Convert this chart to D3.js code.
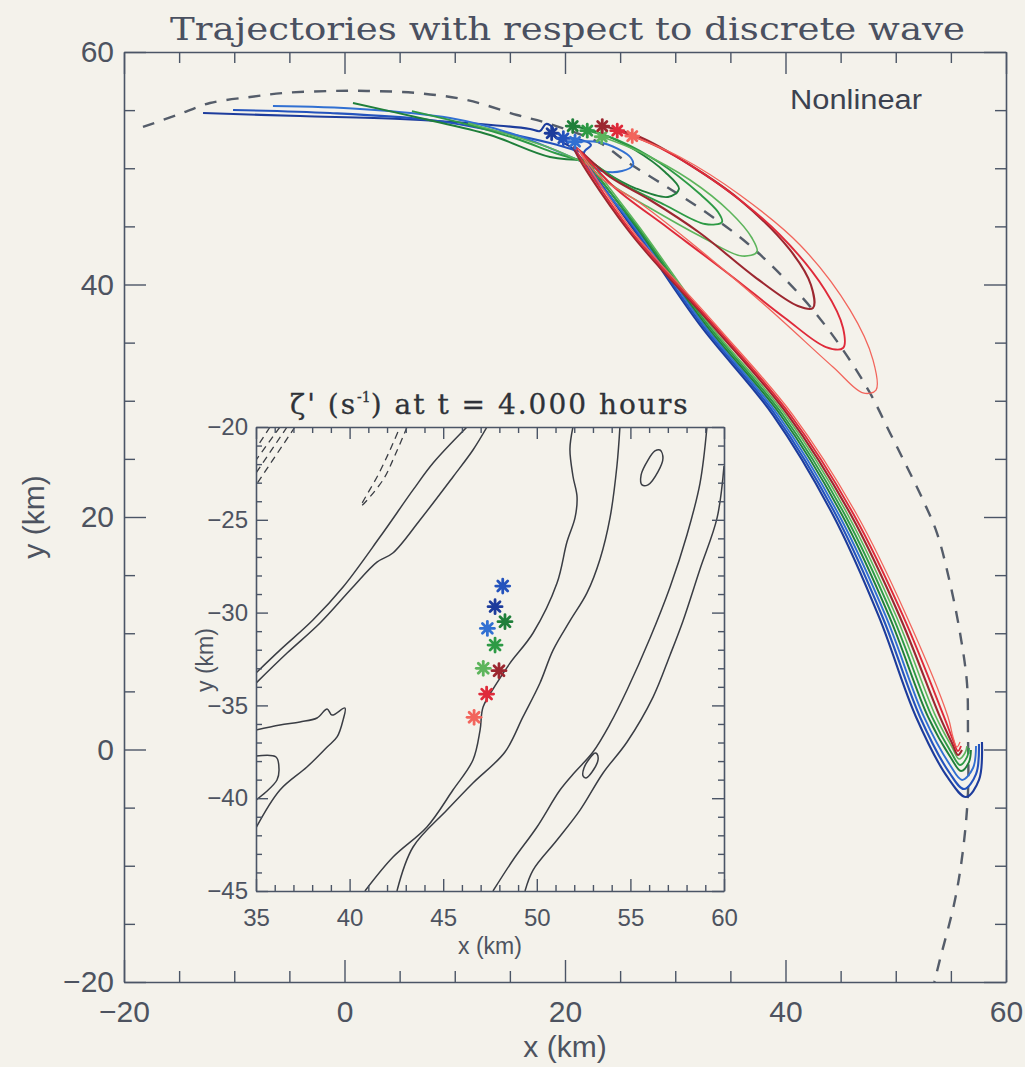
<!DOCTYPE html>
<html>
<head>
<meta charset="utf-8">
<script src="https://cdn.jsdelivr.net/npm/d3@7/dist/d3.min.js"></script>
<style>
  body { margin: 0; background: #f4f2eb; }
  svg { display: block; }
</style>
</head>
<body>
<div id="vis"></div>
<script>
// ---------------------------------------------------------------
// Data (km). Main panel: wave-relative trajectories
// ---------------------------------------------------------------
var wavePath = [[-18.28,53.55],[-15.19,54.58],[-12.20,55.61],[-8.57,56.13],[-5.58,56.47],[-1.04,56.65],[2.04,56.65],[6.58,56.47],[11.11,55.87],[15.65,54.58],[18.37,53.89],[23.17,52.17],[25.62,50.54],[29.25,48.39],[32.88,46.15],[36.51,43.57],[39.77,40.65],[42.49,37.81],[45.22,34.37],[47.66,30.67],[49.48,27.23],[51.02,24.30],[52.47,21.46],[53.74,18.62],[54.92,14.32],[55.83,10.02],[56.46,5.72],[56.55,1.42],[56.55,-3.74],[56.10,-8.65],[55.37,-12.95],[54.00,-18.10],[53.50,-20.00]];

var blue1Tail  = [[-12.83,54.75],[-4.04,54.49],[5.03,54.24],[12.29,53.81],[16.83,53.38],[17.73,53.20],[18.28,53.81],[18.91,53.46],[18.79,53.01]];
var blue1Track = [[18.79,53.01],[19.73,52.26],[20.63,51.74],[26.26,44.69],[32.24,36.52],[38.87,28.77],[44.31,20.17],[48.48,11.40],[51.84,2.80],[54.74,-2.45],[56.37,-4.09],[57.55,-2.62],[57.82,0.64]];
var blue2Tail  = [[-10.11,55.01],[-1.31,54.75],[7.75,54.15],[14.10,53.12],[18.64,52.17],[21.72,51.31]];
var blue2Track = [[19.85,52.58],[21.18,52.52],[22.36,52.00],[21.72,51.31],[26.39,44.69],[32.43,36.52],[39.09,28.77],[44.58,20.17],[48.80,11.40],[52.20,2.80],[54.83,-1.94],[56.19,-3.40],[57.28,-2.11],[57.55,0.47]];
var blue3Tail  = [[-6.49,55.35],[1.41,55.10],[9.57,54.32],[15.01,53.03],[18.64,51.74],[21.81,50.45]];
var blue3Track = [[20.91,52.28],[22.99,52.26],[24.81,51.66],[25.99,50.88],[26.17,50.28],[25.17,49.76],[23.36,49.76],[21.81,50.45],[26.53,44.69],[32.61,36.52],[39.32,28.77],[44.85,20.17],[49.12,11.40],[52.56,2.80],[54.92,-1.33],[56.01,-2.62],[57.01,-1.59],[57.28,0.30]];

var green1Tail  = [[0.77,55.61],[6.85,54.32],[13.20,52.86],[18.64,50.97],[22.09,50.71]];
var green1Track = [[20.70,53.63],[23.17,53.03],[26.35,51.57],[29.07,49.68],[30.34,48.22],[29.34,47.53],[26.35,48.30],[23.63,49.68],[22.09,50.71],[26.67,44.69],[32.79,36.52],[39.55,28.77],[45.13,20.17],[49.43,11.40],[52.93,2.80],[55.01,-0.73],[55.92,-1.85],[56.64,-1.08],[56.82,-0.04]];
var green2Tail  = [[6.12,54.92],[11.38,53.72],[15.92,52.43],[19.09,51.31],[22.27,50.45]];
var green2Track = [[22.02,53.23],[24.99,52.34],[28.62,50.45],[32.24,47.78],[33.88,46.24],[34.24,45.38],[32.70,45.20],[29.07,46.84],[25.44,48.56],[22.27,50.45],[26.80,44.69],[32.97,36.52],[39.77,28.77],[45.40,20.17],[49.75,11.40],[53.29,2.80],[55.01,-0.22],[55.83,-1.33],[56.46,-0.65],[56.64,0.13]];
var green3Tail  = [[11.20,53.89],[15.01,52.86],[18.64,51.74],[22.72,50.02]];
var green3Track = [[23.33,52.71],[26.80,51.40],[31.34,48.99],[34.97,46.24],[36.96,44.00],[37.41,42.80],[36.05,42.45],[32.24,44.17],[27.71,46.58],[24.26,48.56],[22.72,50.02],[26.94,44.69],[33.15,36.52],[40.00,28.77],[45.67,20.17],[50.07,11.40],[53.65,2.80],[55.10,0.21],[55.74,-0.82],[56.28,-0.30],[56.46,0.30]];

var red1Track = [[23.38,53.63],[26.80,52.69],[31.34,50.28],[35.87,47.27],[40.41,42.97],[42.31,39.96],[42.49,37.98],[41.13,38.15],[37.23,40.64],[32.24,44.43],[27.71,47.27],[24.08,49.25],[20.82,51.83],[25.71,44.69],[33.33,36.52],[40.23,28.77],[45.94,20.17],[50.38,11.40],[54.01,2.80],[55.10,0.56],[55.64,-0.47],[56.01,-0.04]];
var red2Track = [[24.74,53.23],[28.62,51.74],[34.06,48.56],[39.50,44.26],[43.58,39.53],[45.22,36.26],[45.22,34.54],[43.67,34.62],[39.95,37.12],[34.97,40.82],[29.34,44.86],[24.54,48.30],[21.00,51.74],[25.89,44.69],[33.51,36.52],[40.45,28.77],[46.21,20.17],[50.70,11.40],[54.38,2.80],[55.19,0.82],[55.64,-0.13],[55.92,0.30]];
var red3Track = [[26.10,52.77],[30.43,50.97],[35.87,47.70],[41.32,43.40],[45.85,37.81],[47.94,33.50],[48.21,30.92],[47.03,30.67],[44.31,32.90],[38.32,38.06],[32.24,42.97],[26.80,47.01],[23.17,49.25],[21.18,51.66],[26.08,44.69],[33.69,36.52],[40.68,28.77],[46.49,20.17],[51.02,11.40],[54.74,2.80],[55.19,1.08],[55.55,0.21],[55.83,0.64]];

// particle order: blue1, blue2, blue3, green1, green2, green3, red1, red2, red3
var particleColors = ["#1d3c9c","#2453bd","#3170d2","#1f7f3a","#2d9a45","#5db55c","#9c2730","#df2a3a","#f2655c"];
var particleWidths = [2.1, 2.1, 1.9, 1.9, 1.9, 1.6, 2.1, 1.9, 1.3];
var mainStars  = [[18.79,53.01],[19.85,52.58],[20.91,52.28],[20.70,53.63],[22.02,53.23],[23.33,52.71],[23.38,53.63],[24.74,53.23],[26.10,52.77]];
var insetStars = [[47.77,-29.68],[48.18,-28.57],[47.36,-30.85],[48.30,-30.49],[47.77,-31.75],[47.14,-33.00],[47.98,-33.13],[47.32,-34.39],[46.65,-35.64]];

// ---------------------------------------------------------------
// Inset: vorticity contours (km, ground frame)
// ---------------------------------------------------------------
var contourA = [[46.27,-20],[44.46,-21.94],[43.39,-23.39],[41.62,-25.93],[39.65,-28.62],[38.04,-30.40],[36.28,-32.02],[35.0,-33.25]];
var contourB = [[47.34,-20],[46.59,-21.24],[45.52,-22.69],[43.76,-25.01],[42.31,-26.79],[41.46,-27.28],[40.18,-28.62],[38.42,-30.56],[36.66,-32.18],[35.0,-33.8]];
var contourC = [[35.0,-36.33],[36.28,-36.06],[37.35,-35.89],[38.26,-35.68],[38.80,-35.19],[39.06,-35.52],[39.75,-35.14],[39.65,-35.79],[39.33,-36.70],[38.80,-37.24],[37.72,-38.32],[36.28,-39.56],[35.0,-41.6]];
var contourC2 = [[35.0,-37.73],[36.07,-37.78],[36.23,-38.48],[36.12,-39.02],[35.53,-39.67],[35.0,-40.10]];
var contourD = [[51.93,-20],[51.77,-21.19],[51.93,-22.64],[52.15,-23.77],[52.04,-24.90],[51.61,-26.20],[51.08,-28.41],[49.80,-31.10],[48.57,-32.72],[47.87,-33.79],[47.13,-35.09],[46.97,-36.33],[46.59,-37.94],[45.52,-39.56],[44.13,-41.55],[42.32,-43.17],[40.82,-45]];
var contourE = [[54.44,-20],[54.28,-22.10],[53.91,-24.90],[53.38,-27.11],[52.68,-28.94],[51.77,-30.45],[50.87,-32.02],[50.17,-33.79],[49.26,-35.62],[48.30,-37.51],[46.59,-39.18],[45.20,-40.64],[43.39,-42.63],[42.53,-45]];
var contourF = [[59.09,-20],[58.72,-23.02],[58.02,-25.82],[57.12,-28.62],[56.05,-31.37],[54.82,-34.17],[53.91,-36.00],[53.00,-37.51],[52.04,-38.59],[51.24,-39.56],[50.01,-41.55],[48.73,-43.33],[47.66,-45]];
var contourG = [[60.0,-22.10],[59.63,-24.90],[58.72,-27.65],[57.81,-30.45],[57.12,-32.28],[56.21,-34.55],[54.82,-36.97],[53.54,-38.64],[52.31,-40.64],[51.08,-42.25],[49.80,-43.87],[49.37,-45]];
var ringUpper = [[56.58,-21.24],[56.74,-21.67],[56.47,-22.42],[55.94,-23.12],[55.62,-23.12],[55.57,-22.59],[55.94,-21.78],[56.31,-21.29]];
var ringLower = [[53.22,-37.62],[53.27,-37.94],[52.95,-38.59],[52.63,-38.91],[52.47,-38.80],[52.52,-38.37],[52.84,-37.83],[53.11,-37.56]];
var dashedLoop = [[43.07,-20],[42.43,-21.51],[41.78,-22.86],[40.61,-24.26],[41.52,-22.59],[42.16,-21.24],[42.69,-20]];
var dashedCorner1 = [[35.75,-20],[35.05,-21.08]];
var dashedCorner2 = [[36.28,-20],[35.0,-21.78]];
var dashedCorner3 = [[36.66,-20],[35.0,-22.48]];
var dashedCorner4 = [[37.08,-20],[35.0,-23.13]];

// axis ticks
var mainMajor = [-20, 0, 20, 40, 60];
var mainMinor = [-15,-10,-5,5,10,15,25,30,35,45,50,55];
var insetXMajor = [35, 40, 45, 50, 55, 60];
var insetYMajor = [-45, -40, -35, -30, -25, -20];
var insetXMinor = [36,37,38,39,41,42,43,44,46,47,48,49,51,52,53,54,56,57,58,59];
var insetYMinor = [-44,-43,-42,-41,-39,-38,-37,-36,-34,-33,-32,-31,-29,-28,-27,-26,-24,-23,-22,-21];

// ---------------------------------------------------------------
var W = 1025, H = 1067;
var axisColor = "#4b5566";
var textColor = "#4d5360";
var bg = "#f4f2eb";
var sans = "'Liberation Sans', Arial, sans-serif";
var serif = "'DejaVu Serif', 'Liberation Serif', serif";

var svg = d3.select("#vis").append("svg")
    .attr("width", W).attr("height", H)
    .style("background", bg);

var x = d3.scaleLinear().domain([-20, 60]).range([124, 1006]);
var y = d3.scaleLinear().domain([-20, 60]).range([982, 52]);

var ix = d3.scaleLinear().domain([35, 60]).range([256, 724]);
var iy = d3.scaleLinear().domain([-45, -20]).range([891, 427]);

function styleAxis(g, fontSize) {
    g.attr("color", axisColor)
        .attr("font-size", fontSize)
        .attr("font-family", sans);
    g.selectAll(".domain").attr("stroke-width", 1.6);
    g.selectAll(".tick line").attr("stroke-width", 1.4);
    g.selectAll(".tick text").attr("fill", textColor);
}

// boxed frame with inward ticks on all four sides
function drawFrame(g, xs, ys, xMajor, xMinor, yMajor, yMinor, major, minor, fs, padX, padY) {
    var x0 = xs.range()[0], x1 = xs.range()[1];
    var y0 = ys.range()[0], y1 = ys.range()[1];

    g.append("g").attr("transform", "translate(0," + y0 + ")")
        .call(d3.axisBottom(xs).tickValues(xMajor).tickSize(-major).tickPadding(padX).tickSizeOuter(0).tickFormat(d3.format("d")))
        .call(styleAxis, fs);
    g.append("g").attr("transform", "translate(0," + y0 + ")")
        .call(d3.axisBottom(xs).tickValues(xMinor).tickSize(-minor).tickFormat(""))
        .call(styleAxis, fs).select(".domain").remove();
    g.append("g").attr("transform", "translate(0," + y1 + ")")
        .call(d3.axisTop(xs).tickValues(xMajor).tickSize(-major).tickSizeOuter(0).tickFormat(""))
        .call(styleAxis, fs);
    g.append("g").attr("transform", "translate(0," + y1 + ")")
        .call(d3.axisTop(xs).tickValues(xMinor).tickSize(-minor).tickFormat(""))
        .call(styleAxis, fs).select(".domain").remove();

    g.append("g").attr("transform", "translate(" + x0 + ",0)")
        .call(d3.axisLeft(ys).tickValues(yMajor).tickSize(-major).tickPadding(padY).tickSizeOuter(0).tickFormat(d3.format("d")))
        .call(styleAxis, fs);
    g.append("g").attr("transform", "translate(" + x0 + ",0)")
        .call(d3.axisLeft(ys).tickValues(yMinor).tickSize(-minor).tickFormat(""))
        .call(styleAxis, fs).select(".domain").remove();
    g.append("g").attr("transform", "translate(" + x1 + ",0)")
        .call(d3.axisRight(ys).tickValues(yMajor).tickSize(-major).tickSizeOuter(0).tickFormat(""))
        .call(styleAxis, fs);
    g.append("g").attr("transform", "translate(" + x1 + ",0)")
        .call(d3.axisRight(ys).tickValues(yMinor).tickSize(-minor).tickFormat(""))
        .call(styleAxis, fs).select(".domain").remove();
}

function star(g, cx, cy, color, r) {
    var s = g.append("g").attr("transform", "translate(" + cx + "," + cy + ")");
    [0, 45, 90, 135].forEach(function(a) {
        s.append("line")
            .attr("x1", -r).attr("x2", r).attr("y1", 0).attr("y2", 0)
            .attr("transform", "rotate(" + a + ")")
            .attr("stroke", color).attr("stroke-width", 2.8).attr("stroke-linecap", "round");
    });
    s.append("circle").attr("r", r * 0.5).attr("fill", color);
}

////////////////////////////////////////////////////////////
// Main panel
var main = svg.append("g");

main.append("text")
    .attr("x", 170).attr("y", 40)
    .attr("textLength", 795).attr("lengthAdjust", "spacingAndGlyphs")
    .attr("font-family", serif)
    .attr("font-size", 31)
    .attr("fill", "#4a5060")
    .text("Trajectories with respect to discrete wave");

drawFrame(main, x, y, mainMajor, mainMinor, mainMajor, mainMinor, 22, 11, 30, 19, 10);

main.append("text")
    .attr("x", 565).attr("y", 1057)
    .attr("text-anchor", "middle")
    .attr("font-family", sans)
    .attr("font-size", 30).attr("fill", textColor)
    .text("x (km)");

main.append("text")
    .attr("transform", "translate(44,517) rotate(-90)")
    .attr("text-anchor", "middle")
    .attr("font-family", sans)
    .attr("font-size", 30).attr("fill", textColor)
    .text("y (km)");

main.append("text")
    .attr("x", 790).attr("y", 109)
    .attr("textLength", 132).attr("lengthAdjust", "spacingAndGlyphs")
    .attr("font-family", sans)
    .attr("font-size", 27).attr("fill", "#3c4250")
    .text("Nonlinear");

main.append("clipPath").attr("id", "mainclip").append("rect")
    .attr("x", 124).attr("y", 52).attr("width", 882).attr("height", 930);

var plot = main.append("g").attr("clip-path", "url(#mainclip)");

var line = d3.line()
    .x(function(d) { return x(d[0]); })
    .y(function(d) { return y(d[1]); })
    .curve(d3.curveCatmullRom.alpha(0.5));

plot.append("path")
    .datum(wavePath)
    .attr("d", line)
    .attr("fill", "none")
    .attr("stroke", "#555d6a")
    .attr("stroke-width", 2.4)
    .attr("stroke-dasharray", "12,10");

var tails = [blue1Tail, blue2Tail, blue3Tail, green1Tail, green2Tail, green3Tail, null, null, null];
var tracks = [blue1Track, blue2Track, blue3Track, green1Track, green2Track, green3Track, red1Track, red2Track, red3Track];

tracks.forEach(function(tr, i) {
    [tails[i], tr].forEach(function(seg) {
        if (!seg) return;
        plot.append("path")
            .datum(seg)
            .attr("d", line)
            .attr("fill", "none")
            .attr("stroke", particleColors[i])
            .attr("stroke-width", particleWidths[i])
            .attr("stroke-linejoin", "round");
    });
});

mainStars.forEach(function(d, i) {
    star(plot, x(d[0]), y(d[1]), particleColors[i], 6.5);
});

////////////////////////////////////////////////////////////
// Inset
var inset = svg.append("g");

inset.append("rect")
    .attr("x", 256).attr("y", 427).attr("width", 468).attr("height", 464)
    .attr("fill", bg);

var ttl = inset.append("text").attr("x", 290).attr("y", 414)
    .attr("font-family", serif).attr("font-size", 28).attr("fill", "#2f3238")
    .attr("letter-spacing", 2)
    .attr("stroke", "#2f3238").attr("stroke-width", 0.3);
ttl.append("tspan").text("\u03b6' (s");
ttl.append("tspan").attr("dy", -12).attr("font-size", 14).attr("letter-spacing", 0).text("-1");
ttl.append("tspan").attr("dy", 12).text(") at t = 4.000 hours");

var inLine = d3.line()
    .x(function(d) { return ix(d[0]); })
    .y(function(d) { return iy(d[1]); })
    .curve(d3.curveCatmullRom.alpha(0.5));
var inLoop = d3.line()
    .x(function(d) { return ix(d[0]); })
    .y(function(d) { return iy(d[1]); })
    .curve(d3.curveCatmullRomClosed.alpha(0.5));

inset.append("clipPath").attr("id", "insetclip").append("rect")
    .attr("x", 256).attr("y", 427).attr("width", 468).attr("height", 464);
var ip = inset.append("g").attr("clip-path", "url(#insetclip)");

[contourA, contourB, contourC, contourC2, contourD, contourE, contourF, contourG].forEach(function(c) {
    ip.append("path").datum(c).attr("d", inLine)
        .attr("fill", "none").attr("stroke", "#3a3d44").attr("stroke-width", 1.5);
});
[ringUpper, ringLower].forEach(function(c) {
    ip.append("path").datum(c).attr("d", inLoop)
        .attr("fill", "none").attr("stroke", "#3a3d44").attr("stroke-width", 1.5);
});
[dashedLoop, dashedCorner1, dashedCorner2, dashedCorner3, dashedCorner4].forEach(function(c) {
    ip.append("path").datum(c).attr("d", inLine)
        .attr("fill", "none").attr("stroke", "#3a3d44").attr("stroke-width", 1.3)
        .attr("stroke-dasharray", "7,5");
});

insetStars.forEach(function(d, i) {
    star(ip, ix(d[0]), iy(d[1]), particleColors[i], 7);
});

drawFrame(inset, ix, iy, insetXMajor, insetXMinor, insetYMajor, insetYMinor, 12, 6, 24, 18, 8);

inset.append("text")
    .attr("x", 490).attr("y", 954)
    .attr("text-anchor", "middle")
    .attr("font-family", sans)
    .attr("font-size", 23).attr("fill", textColor)
    .text("x (km)");
inset.append("text")
    .attr("transform", "translate(213,660) rotate(-90)")
    .attr("text-anchor", "middle")
    .attr("font-family", sans)
    .attr("font-size", 23).attr("fill", textColor)
    .text("y (km)");
</script>
</body>
</html>
